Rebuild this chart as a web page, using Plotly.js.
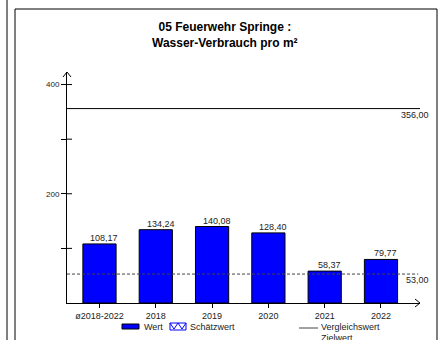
<!DOCTYPE html>
<html>
<head>
<meta charset="utf-8">
<script src="https://cdn.plot.ly/plotly-3.0.1.min.js"></script>
<style>html,body{margin:0;padding:0;background:#fff;}#chart{width:446px;height:340px;}</style>
</head>
<body>
<div id="chart"></div>
<script>
// ---- data ----
const categories = ["ø2018-2022", "2018", "2019", "2020", "2021", "2022"];
const values = [108.17, 134.24, 140.08, 128.40, 58.37, 79.77];
const vergleichswert = 356.00;
const zielwert = 53.00;
const yTickVals = [100, 200, 300, 400];
const yTickText = ["", "200", "", "400"];
const legendLabels = ["Wert", "Schätzwert", "Vergleichswert", "Zielwert"];
const chartTitle = "<b>05 Feuerwehr Springe :<br>Wasser-Verbrauch pro m²</b>";

// ---- layout geometry (pixels) ----
const W = 446, H = 340;
const L = 67, R = 420, T = 72, B = 303;
const px = x => (x - L) / (R - L);
const py = y => (B - y) / (B - T);
const FONT = "Liberation Sans, Arial, sans-serif";
const fmt = v => v.toFixed(2).replace(".", ",");

const xIdx = categories.map((c, i) => i);

const traces = [{
  type: "bar",
  x: xIdx,
  y: values,
  width: 0.59,
  marker: {color: "#0000FF", line: {color: "#000", width: 1}},
  hoverinfo: "skip",
  showlegend: false
}];

const shapes = [];
const annotations = [];

// title
annotations.push({xref: "paper", yref: "paper", x: px(225), y: py(18), xanchor: "center", yanchor: "top",
  text: chartTitle, showarrow: false, font: {family: FONT, size: 12, color: "#000"}});

// reference lines
shapes.push({type: "line", xref: "paper", yref: "y", x0: 0, x1: 1, y0: vergleichswert, y1: vergleichswert,
  line: {color: "#000", width: 1}});
shapes.push({type: "line", xref: "paper", yref: "y", x0: 0, x1: 0.995, y0: zielwert, y1: zielwert,
  line: {color: "#444", width: 1, dash: "3px,2px"}});
[[vergleichswert], [zielwert]].forEach(([v]) => {
  annotations.push({xref: "paper", yref: "y", x: 1, y: v, xanchor: "right", yanchor: "top",
    xshift: 11, yshift: 1, text: fmt(v), showarrow: false,
    font: {family: FONT, size: 9, color: "#222"}});
});

// bar value labels
values.forEach((v, i) => {
  annotations.push({xref: "x", yref: "y", x: i, y: v, xanchor: "center", yanchor: "bottom",
    xshift: 5, yshift: -1, text: fmt(v), showarrow: false,
    font: {family: FONT, size: 9, color: "#222"}});
});

// y ticks crossing the axis (inner half)
yTickVals.forEach(v => {
  shapes.push({type: "line", xref: "paper", yref: "y", xsizemode: "pixel", xanchor: 0,
    x0: 0, x1: 5, y0: v, y1: v, line: {color: "#000", width: 1}});
});

// axis arrows
shapes.push({type: "path", xref: "paper", yref: "paper", path:
  `M ${px(R-5)},${py(B-4)} L ${px(R)},${py(B)} L ${px(R-5)},${py(B+4)}`,
  line: {color: "#000", width: 1}});
shapes.push({type: "path", xref: "paper", yref: "paper", path:
  `M ${px(L-4)},${py(T+5)} L ${px(L)},${py(T)} L ${px(L+4)},${py(T+5)}`,
  line: {color: "#000", width: 1}});

// frames
shapes.push({type: "line", xref: "paper", yref: "paper", x0: px(7), x1: px(7), y0: py(0), y1: py(H),
  line: {color: "#000", width: 1}});
shapes.push({type: "path", xref: "paper", yref: "paper",
  path: `M ${px(15)},${py(H+2)} L ${px(15)},${py(9)} L ${px(437)},${py(9)} L ${px(437)},${py(H+2)}`,
  line: {color: "#000", width: 1}});

// legend
const lf = {family: FONT, size: 9, color: "#222"};
shapes.push({type: "rect", xref: "paper", yref: "paper", x0: px(122), x1: px(139), y0: py(329), y1: py(324),
  fillcolor: "#0000FF", line: {color: "#000", width: 1}});
annotations.push({xref: "paper", yref: "paper", x: px(142), y: py(327), xanchor: "left", yanchor: "middle",
  text: legendLabels[0], showarrow: false, font: lf});
shapes.push({type: "rect", xref: "paper", yref: "paper", x0: px(170), x1: px(186), y0: py(330), y1: py(323),
  fillcolor: "#fff", line: {color: "#0000FF", width: 1}});
shapes.push({type: "path", xref: "paper", yref: "paper",
  path: `M ${px(170)},${py(323)} L ${px(174)},${py(329)} L ${px(178)},${py(323)} L ${px(182)},${py(329)} L ${px(186)},${py(323)}`,
  line: {color: "#0000FF", width: 1}});
annotations.push({xref: "paper", yref: "paper", x: px(188), y: py(327), xanchor: "left", yanchor: "middle",
  text: legendLabels[1], showarrow: false, font: lf});
shapes.push({type: "line", xref: "paper", yref: "paper", x0: px(299), x1: px(318), y0: py(328), y1: py(328),
  line: {color: "#444", width: 1}});
annotations.push({xref: "paper", yref: "paper", x: px(319), y: py(327), xanchor: "left", yanchor: "middle",
  text: legendLabels[2], showarrow: false, font: lf});
annotations.push({xref: "paper", yref: "paper", x: px(319), y: py(338), xanchor: "left", yanchor: "middle",
  text: legendLabels[3], showarrow: false, font: lf});

const layout = {
  width: W, height: H,
  margin: {l: L, r: W - R, t: T, b: H - B, pad: 0},
  paper_bgcolor: "#fff", plot_bgcolor: "#fff",
  font: {family: FONT, size: 9, color: "#222"},
  showlegend: false,
  bargap: 0.41,
  xaxis: {
    range: [-0.577, 5.693], tickmode: "array", tickvals: xIdx, ticktext: categories,
    showline: true, linecolor: "#000", linewidth: 1, ticks: "outside", ticklen: 4, tickcolor: "#000",
    showgrid: false, zeroline: false, fixedrange: true,
    tickfont: {family: FONT, size: 9, color: "#222"}
  },
  yaxis: {
    range: [0, 423], tickmode: "array", tickvals: yTickVals, ticktext: yTickText,
    showline: true, linecolor: "#000", linewidth: 1, ticks: "outside", ticklen: 5, tickcolor: "#000",
    showgrid: false, zeroline: false, fixedrange: true,
    tickfont: {family: FONT, size: 8, color: "#222"}
  },
  shapes: shapes,
  annotations: annotations
};

Plotly.newPlot("chart", traces, layout, {staticPlot: true, displayModeBar: false});
</script>
</body>
</html>
